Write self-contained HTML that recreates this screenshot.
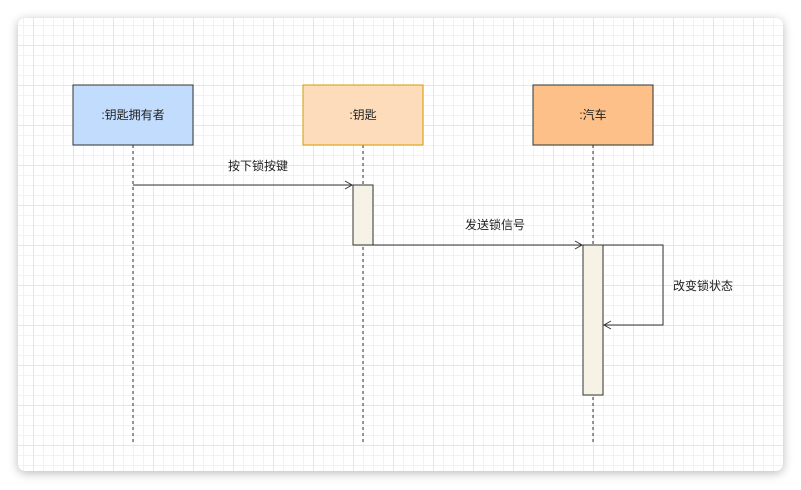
<!DOCTYPE html>
<html><head><meta charset="utf-8"><style>
html,body{margin:0;padding:0;width:801px;height:490px;background:#fff;overflow:hidden}
.card{position:absolute;left:18px;top:18px;width:765px;height:453px;border-radius:7px;background-color:#fff;
box-shadow:0 2px 10px rgba(0,0,0,0.28);
background-image:linear-gradient(#e6e6e6 1px,transparent 1px),linear-gradient(90deg,#e6e6e6 1px,transparent 1px),linear-gradient(#f2f2f2 1px,transparent 1px),linear-gradient(90deg,#f2f2f2 1px,transparent 1px);
background-size:40px 40px,40px 40px,10px 10px,10px 10px;background-position:15px 27px,15px 27px,15px 27px,15px 27px;}
svg{position:absolute;left:0;top:0}
text{font-family:"Liberation Sans","Noto Sans CJK SC",sans-serif;font-size:12px;fill:#222}
</style></head><body>
<div class="card"></div>
<svg width="801" height="490">
<g stroke="#333" stroke-dasharray="3,3" stroke-width="1">
<line x1="133" y1="145" x2="133" y2="445"/>
<line x1="363" y1="145" x2="363" y2="445"/>
<line x1="593" y1="145" x2="593" y2="445"/>
</g>
<rect x="73" y="85" width="120" height="60" fill="#c1dcfd" stroke="#333"/>
<rect x="303" y="85" width="120" height="60" fill="#fddcbb" stroke="#d79b00"/>
<rect x="533" y="85" width="120" height="60" fill="#fdc088" stroke="#333"/>
<text x="133" y="119" text-anchor="middle">:钥匙拥有者</text>
<text x="363" y="119" text-anchor="middle">:钥匙</text>
<text x="593" y="119" text-anchor="middle">:汽车</text>
<rect x="353" y="185" width="20" height="60" fill="#f6f3e6" stroke="#333"/>
<rect x="583" y="245" width="20" height="150" fill="#f6f3e6" stroke="#333"/>
<g stroke="#333" fill="none" stroke-width="1">
<line x1="133" y1="185" x2="352" y2="185"/>
<polyline points="345,181 352,185 345,189"/>
<line x1="373" y1="245" x2="582" y2="245"/>
<polyline points="575,241 582,245 575,249"/>
<polyline points="603,245 663,245 663,325 604,325"/>
<polyline points="611,321 604,325 611,329"/>
</g>
<text x="258" y="170" text-anchor="middle">按下锁按键</text>
<text x="495" y="229" text-anchor="middle">发送锁信号</text>
<text x="673" y="290">改变锁状态</text>
</svg>
</body></html>
